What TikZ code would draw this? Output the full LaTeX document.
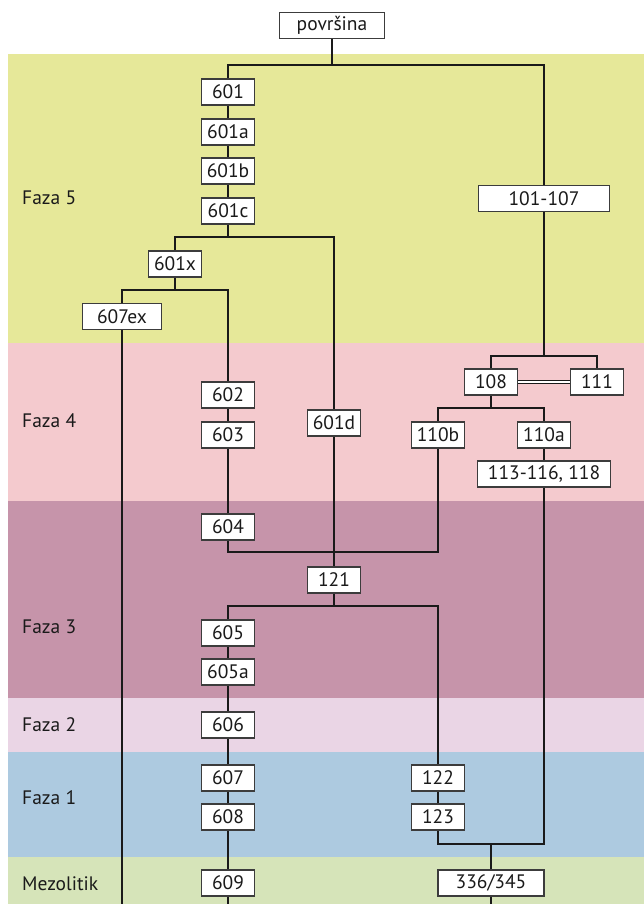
\documentclass[tikz,border=0pt]{standalone}
\usepackage{fontspec}
\setmainfont{PT Sans}
\begin{document}
\pgfdeclarelayer{bands}
\pgfdeclarelayer{lines}
\pgfsetlayers{bands,lines,main}
\definecolor{cF}{HTML}{E6E899}
\definecolor{cE}{HTML}{F4CACE}
\definecolor{cD}{HTML}{C694AA}
\definecolor{cC}{HTML}{EAD5E5}
\definecolor{cB}{HTML}{ADCAE0}
\definecolor{cA}{HTML}{D6E4B9}
\definecolor{ink}{HTML}{1A1A1A}
\begin{tikzpicture}[x=1pt,y=-1pt,
  box/.style={draw=ink!85, line width=1.2pt, fill=white, minimum height=26pt,
    minimum width=53pt, inner sep=0pt, font=\fontsize{19.5}{21}\selectfont, text=ink},
  phase/.style={anchor=west, inner sep=0pt, font=\fontsize{19.5}{21}\selectfont, text=ink},
  conn/.style={draw=ink, line width=2pt}]
\useasboundingbox (0,0) rectangle (644,904);
\begin{pgfonlayer}{bands}
\fill[cF] (8,54) rectangle (644,343);
\fill[cE] (8,343) rectangle (644,501);
\fill[cD] (8,501) rectangle (644,698);
\fill[cC] (8,698) rectangle (644,752);
\fill[cB] (8,752) rectangle (644,857);
\fill[cA] (8,857) rectangle (644,904);
\end{pgfonlayer}
% phase labels
\node[phase] (l5) at (22,198) {Faza 5};
\node[phase] (l4) at (22,421) {Faza 4};
\node[phase] (l3) at (22,627) {Faza 3};
\node[phase] (l2) at (22,725) {Faza 2};
\node[phase] (l1) at (22,798) {Faza 1};
\node[phase] (l0) at (22,884) {Mezolitik};
% boxes
\node[box, minimum width=105pt] (pov) at (332,25.5) {površina};
\node[box] (n601) at (228,92) {601};
\node[box] (n601a) at (228,132) {601a};
\node[box] (n601b) at (228,171) {601b};
\node[box] (n601c) at (228,211) {601c};
\node[box, minimum width=131pt] (n101) at (544,198.5) {101-107};
\node[box] (n601x) at (175,264) {601x};
\node[box, minimum width=79pt] (n607ex) at (122,316.5) {607ex};
\node[box] (n602) at (228,395) {602};
\node[box] (n603) at (228,435) {603};
\node[box] (n601d) at (334,423) {601d};
\node[box] (n108) at (491,382) {108};
\node[box] (n111) at (597,382) {111};
\node[box] (n110b) at (438,435) {110b};
\node[box] (n110a) at (544,435) {110a};
\node[box, minimum width=133pt] (n113) at (544,474) {113-116, 118};
\node[box] (n604) at (228,527) {604};
\node[box] (n121) at (334,580) {121};
\node[box] (n605) at (228,633) {605};
\node[box] (n605a) at (228,672) {605a};
\node[box] (n606) at (228,725) {606};
\node[box] (n607) at (228,778) {607};
\node[box] (n608) at (228,817) {608};
\node[box] (n609) at (228,883) {609};
\node[box] (n122) at (438,778) {122};
\node[box] (n123) at (438,817) {123};
\node[box, minimum width=106pt] (n336) at (491,883) {336/345};
% junctions
\coordinate (jtop) at (332,65);
\coordinate (j2) at (228,237);
\coordinate (j3) at (175,290);
\coordinate (jr) at (544,356);
\coordinate (j4) at (491,408);
\coordinate (j5) at (334,552);
\coordinate (j6) at (334,606);
\coordinate (j7) at (491,844);
\coordinate (b1) at (122,904);
\coordinate (b2) at (228,904);
\coordinate (b3) at (491,904);
\begin{pgfonlayer}{lines}
\draw[conn] (pov) -- (jtop);
\draw[conn] (n601) |- (jtop) -| (n101);
\draw[conn] (n601) -- (n601a) -- (n601b) -- (n601c) -- (j2);
\draw[conn] (n601x) |- (j2) -| (n601d);
\draw[conn] (n601x) -- (j3);
\draw[conn] (n607ex) |- (j3) -| (n602);
\draw[conn] (n607ex) -- (b1);
\draw[conn] (n602) -- (n603) -- (n604);
\draw[conn] (n601d) -- (n121);
\draw[conn] (n101) -- (jr);
\draw[conn] (n108) |- (jr) -| (n111);
\draw[draw=ink, line width=1pt, double=white, double distance=2.6pt] (n108) -- (n111);
\draw[conn] (n108) -- (j4);
\draw[conn] (n110b) |- (j4) -| (n110a);
\draw[conn] (n110a) -- (n113);
\draw[conn] (n604) |- (j5) -| (n110b);
\draw[conn] (n121) -- (j6);
\draw[conn] (n605) |- (j6) -| (n122);
\draw[conn] (n605) -- (n605a) -- (n606) -- (n607) -- (n608) -- (n609) -- (b2);
\draw[conn] (n122) -- (n123);
\draw[conn] (n123) |- (j7) -| (n113);
\draw[conn] (j7) -- (n336) -- (b3);
\end{pgfonlayer}
\end{tikzpicture}
\end{document}
